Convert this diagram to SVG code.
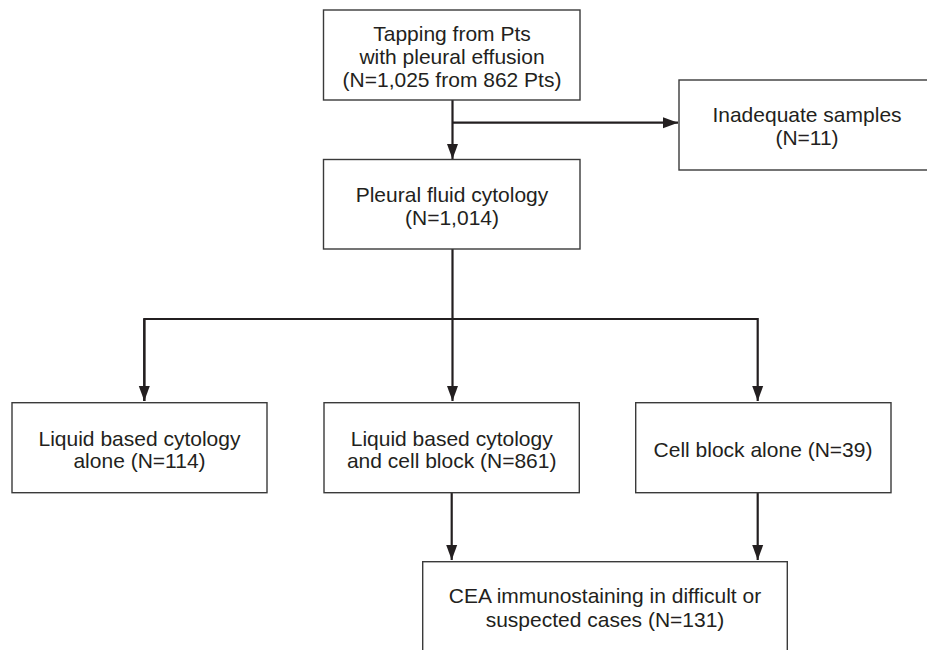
<svg xmlns="http://www.w3.org/2000/svg" width="927" height="650" viewBox="0 0 927 650">
<style>
.box{fill:#ffffff;stroke:#3a3a3a;stroke-width:1.4}
.t{font-family:"Liberation Sans",Arial,Helvetica,sans-serif;font-size:21px;fill:#231f20;text-anchor:middle}
.c{fill:none;stroke:#231f20;stroke-width:2.2}
</style>
<defs>
<marker id="ah" markerUnits="userSpaceOnUse" markerWidth="16" markerHeight="12" refX="15" refY="6" orient="auto">
<path d="M0,0.5 L15,6 L0,11.5 z" fill="#231f20"/>
</marker>
</defs>
<rect width="927" height="650" fill="#ffffff"/>
<g id="connectors">
<path class="c" d="M452.5,100 V159" marker-end="url(#ah)"/>
<path class="c" d="M452.5,122.7 H678" marker-end="url(#ah)"/>
<path class="c" d="M452.5,249 V401" marker-end="url(#ah)"/>
<path class="c" d="M144.3,401 V319 H757.7 V401" marker-end="url(#ah)"/>
<path class="c" d="M144.3,319 V401" marker-end="url(#ah)"/>
<path class="c" d="M451.7,493 V560" marker-end="url(#ah)"/>
<path class="c" d="M757.7,493 V560" marker-end="url(#ah)"/>
</g>
<g id="tapping">
<rect class="box" x="323.5" y="10" width="256.5" height="90"/>
<text class="t" x="452" y="40.7">Tapping from Pts</text>
<text class="t" x="452" y="64">with pleural effusion</text>
<text class="t" x="452" y="87.3">(N=1,025 from 862 Pts)</text>
</g>
<g id="inadequate">
<rect class="box" x="679" y="80" width="256" height="90"/>
<text class="t" x="807" y="121.7">Inadequate samples</text>
<text class="t" x="807" y="145">(N=11)</text>
</g>
<g id="cytology">
<rect class="box" x="323.5" y="159.5" width="256.5" height="89.5"/>
<text class="t" x="452" y="201.7">Pleural fluid cytology</text>
<text class="t" x="452" y="225">(N=1,014)</text>
</g>
<g id="lbc-alone">
<rect class="box" x="12" y="402.7" width="255" height="90"/>
<text class="t" x="139.5" y="445.7">Liquid based cytology</text>
<text class="t" x="139.5" y="468.3">alone (N=114)</text>
</g>
<g id="lbc-cellblock">
<rect class="box" x="324" y="402.7" width="255.3" height="90"/>
<text class="t" x="451.7" y="445.7">Liquid based cytology</text>
<text class="t" x="451.7" y="468.3">and cell block (N=861)</text>
</g>
<g id="cellblock-alone">
<rect class="box" x="635.7" y="402.7" width="255.3" height="90"/>
<text class="t" x="763" y="456.7">Cell block alone (N=39)</text>
</g>
<g id="cea">
<rect class="box" x="422.7" y="561.7" width="364.6" height="100"/>
<text class="t" x="605" y="603.3">CEA immunostaining in difficult or</text>
<text class="t" x="605" y="626.7">suspected cases (N=131)</text>
</g>
</svg>
